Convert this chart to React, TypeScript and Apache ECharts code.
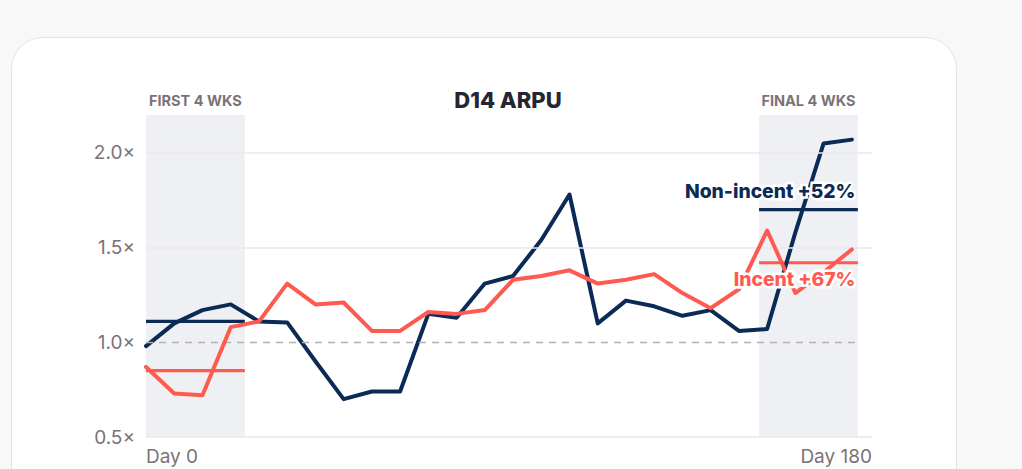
import React, { useEffect, useRef } from "react";
import * as echarts from "echarts";

// ---- data ----
const days = [0, 7, 14, 21, 28, 35, 42, 49, 56, 63, 70, 77, 84, 91, 98, 105, 112, 119, 126, 133, 140, 147, 154, 161, 168, 175];
const nonIncent = [0.98, 1.10, 1.17, 1.20, 1.11, 1.105, 0.90, 0.70, 0.74, 0.74, 1.15, 1.13, 1.31, 1.35, 1.54, 1.78, 1.10, 1.22, 1.19, 1.14, 1.17, 1.06, 1.07, 1.58, 2.05, 2.07];
const incent = [0.87, 0.73, 0.72, 1.08, 1.11, 1.31, 1.20, 1.21, 1.06, 1.06, 1.16, 1.15, 1.17, 1.33, 1.35, 1.38, 1.31, 1.33, 1.36, 1.26, 1.18, 1.28, 1.59, 1.26, 1.37, 1.49];
const firstWindow = [0, 24.5];
const finalWindow = [152, 176.5];
const nonIncentAvg = [1.11, 1.70]; // first 4 wks, final 4 wks
const incentAvg = [0.85, 1.42];
const yTicks = [0.5, 1.0, 1.5, 2.0];
const xTickLabels = ["Day 0", "Day 180"];
const windowLabels = ["FIRST 4 WKS", "FINAL 4 WKS"];
const seriesLabels = ["Non-incent +52%", "Incent +67%"];
const title = "D14 ARPU";

const NAVY = "#0b2a56";
const RED = "#ff5a50";
const GRAY = "#7b7277";
const FONT = "Inter, 'Noto Sans', sans-serif";

export default function App() {
  const ref = useRef<HTMLDivElement>(null);
  useEffect(() => {
    if (!ref.current) return;
    const chart = echarts.init(ref.current, undefined, { renderer: "svg" });
    const pair = (xs: number[], ys: number[]) => xs.map((x, i) => [x, ys[i]]);
    const grid = { left: 146, right: 150, top: 115, bottom: 32 };
    const annot = (halo: boolean) => ({
      type: "scatter",
      name: halo ? "label halo" : "labels",
      z: halo ? 9 : 10,
      symbolSize: 0,
      silent: true,
      itemStyle: { opacity: 1 },
      data: [
        { value: [finalWindow[1] - 0.6, nonIncentAvg[1]], off: -19, color: NAVY, text: seriesLabels[0] },
        { value: [finalWindow[1] - 0.6, incentAvg[1]], off: 16, color: RED, text: seriesLabels[1] },
      ].map((d) => ({
        value: d.value,
        itemStyle: { opacity: 1 },
        label: {
          show: true,
          position: "left",
          distance: 0,
          offset: [0, d.off],
          formatter: d.text,
          fontFamily: FONT,
          fontSize: 19.3,
          fontWeight: 800,
          opacity: 1,
          color: halo ? "#ffffff" : d.color,
          textBorderColor: halo ? "#ffffff" : "transparent",
          textBorderWidth: halo ? 5 : 0,
        },
      })),
    });
    const winLabel = (text: string) => ({
      show: true,
      position: "top",
      distance: 7,
      formatter: text,
      fontFamily: FONT,
      fontSize: 14.5,
      fontWeight: 700,
      color: GRAY,
    });
    const option: any = {
      animation: false,
      backgroundColor: "transparent",
      title: {
        text: title,
        left: 503,
        top: 84,
        textAlign: "center",
        textStyle: { fontFamily: FONT, fontSize: 22, fontWeight: 800, color: "#262633" },
      },
      grid,
      xAxis: {
        type: "value",
        min: 0,
        max: 180,
        interval: 180,
        axisLine: { show: false },
        axisTick: { show: false },
        splitLine: { show: false },
        axisLabel: {
          margin: 10,
          fontFamily: FONT,
          fontSize: 19,
          color: GRAY,
          alignMinLabel: "left",
          alignMaxLabel: "right",
          formatter: (v: number) => (v === 0 ? xTickLabels[0] : v === 180 ? xTickLabels[1] : ""),
        },
      },
      yAxis: {
        type: "value",
        min: 0.5,
        max: 2.2,
        interval: 0.5,
        axisLine: { show: false },
        axisTick: { show: false },
        splitLine: { show: false },
        axisLabel: {
          margin: 11,
          fontFamily: FONT,
          fontSize: 19,
          color: GRAY,
          showMaxLabel: false,
          formatter: (v: number) => (yTicks.some((t) => Math.abs(t - v) < 1e-6) ? v.toFixed(1) + "×" : ""),
        },
      },
      series: [
        {
          type: "line",
          name: "grid",
          data: [],
          silent: true,
          markArea: {
            silent: true,
            itemStyle: { color: "#eff0f4" },
            data: [
              [
                { xAxis: firstWindow[0], yAxis: 2.2, label: winLabel(windowLabels[0]) },
                { xAxis: firstWindow[1], yAxis: 0.5 },
              ],
              [
                { xAxis: finalWindow[0], yAxis: 2.2, label: winLabel(windowLabels[1]) },
                { xAxis: finalWindow[1], yAxis: 0.5 },
              ],
            ],
          },
          markLine: {
            silent: true,
            symbol: "none",
            label: { show: false },
            data: [
              ...yTicks
                .filter((t) => t !== 1.0)
                .map((t) => ({ yAxis: t, lineStyle: { color: "#e8e9ee", width: 1.5, type: "solid" } })),
              [
                { coord: [0, 1.0], lineStyle: { color: "#b3b1b4", width: 1.3, type: [7, 6] } },
                { coord: [finalWindow[1], 1.0] },
              ],
            ],
          },
        },
        {
          type: "line",
          name: "Non-incent avg",
          symbol: "none",
          z: 3,
          lineStyle: { color: NAVY, width: 3.2 },
          data: pair(firstWindow, [nonIncentAvg[0], nonIncentAvg[0]]),
        },
        {
          type: "line",
          name: "Non-incent avg final",
          symbol: "none",
          z: 3,
          lineStyle: { color: NAVY, width: 3.2 },
          data: pair(finalWindow, [nonIncentAvg[1], nonIncentAvg[1]]),
        },
        {
          type: "line",
          name: "Incent avg",
          symbol: "none",
          z: 3,
          lineStyle: { color: RED, width: 3.2 },
          data: pair(firstWindow, [incentAvg[0], incentAvg[0]]),
        },
        {
          type: "line",
          name: "Incent avg final",
          symbol: "none",
          z: 3,
          lineStyle: { color: RED, width: 3.2 },
          data: pair(finalWindow, [incentAvg[1], incentAvg[1]]),
        },
        {
          type: "line",
          name: "Non-incent",
          symbol: "none",
          z: 4,
          lineStyle: { color: NAVY, width: 4, cap: "round", join: "round" },
          data: pair(days, nonIncent),
        },
        {
          type: "line",
          name: "Incent",
          symbol: "none",
          z: 5,
          lineStyle: { color: RED, width: 4, cap: "round", join: "round" },
          data: pair(days, incent),
        },
        annot(true),
        annot(false),
      ],
    };
    chart.setOption(option);
    return () => chart.dispose();
  }, []);

  return (
    <div style={{ position: "fixed", left: 0, top: 0, width: 1022, height: 469, background: "#f8f8f9", overflow: "hidden" }}>
      <div
        style={{
          position: "absolute",
          left: 11,
          top: 37,
          width: 946,
          height: 520,
          background: "#ffffff",
          border: "1.5px solid #e2e5eb",
          borderRadius: 32,
          boxSizing: "border-box",
        }}
      />
      <div ref={ref} style={{ position: "absolute", left: 0, top: 0, width: 1022, height: 469 }} />
    </div>
  );
}
